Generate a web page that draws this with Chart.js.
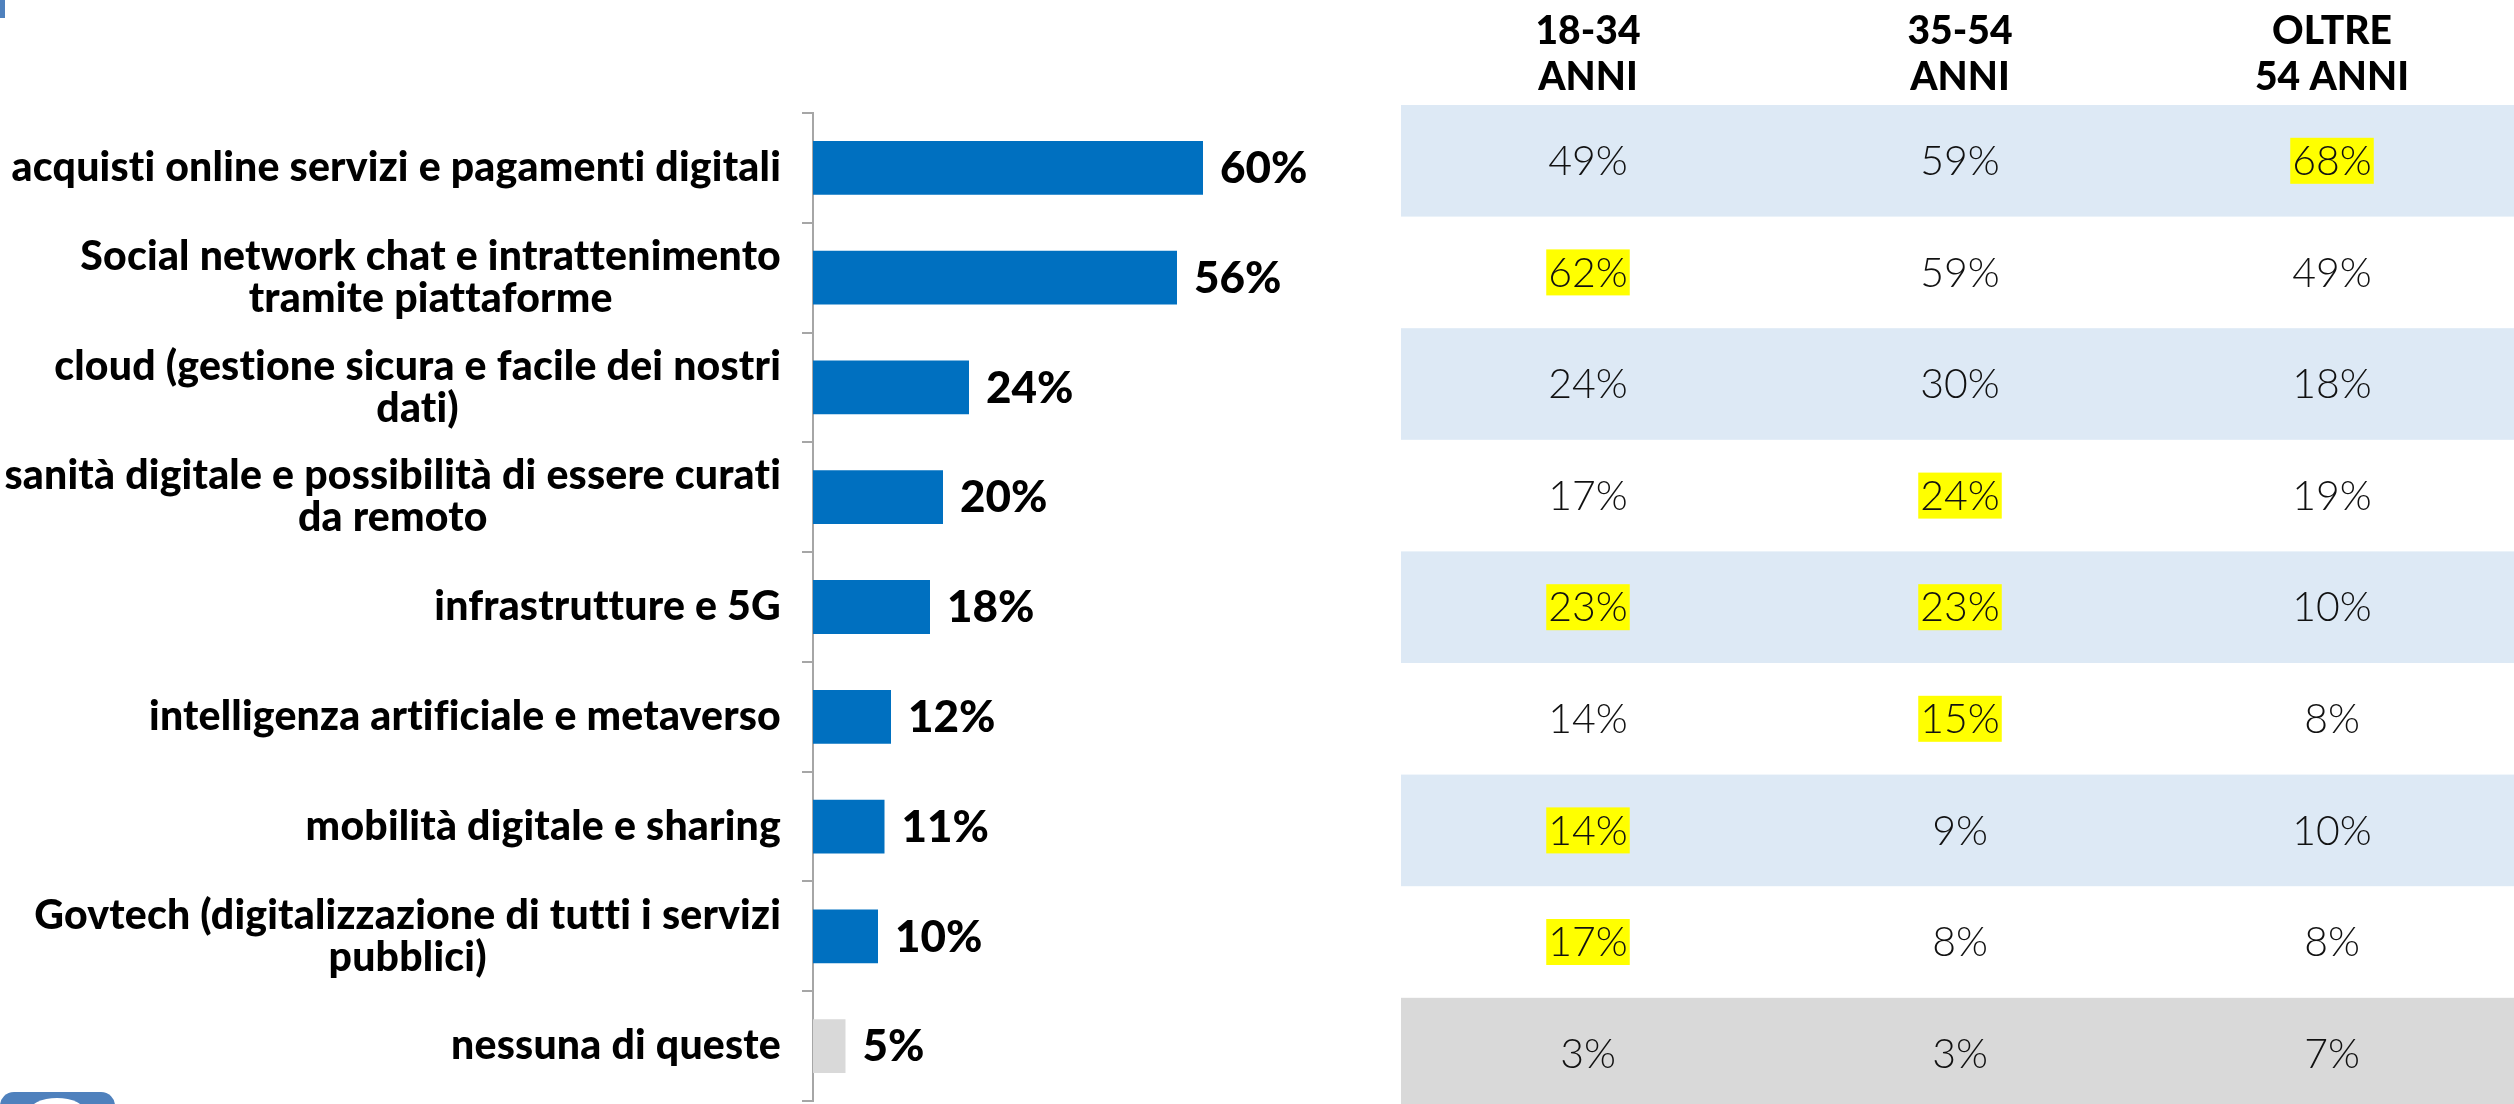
<!DOCTYPE html>
<html>
<head>
<meta charset="utf-8">
<script src="https://cdn.jsdelivr.net/npm/chart.js@4.4.1/dist/chart.umd.min.js"></script>
<style>
  html, body { margin: 0; padding: 0; background: #fff; }
  canvas { display: block; }
</style>
</head>
<body>
<canvas id="chart" width="2514" height="1104"></canvas>
<script>
const categories = [
    ['acquisti online servizi e pagamenti digitali'],
    ['Social network chat e intrattenimento', 'tramite piattaforme'],
    ['cloud (gestione sicura e facile dei nostri', 'dati)'],
    ['sanità digitale e possibilità di essere curati', 'da remoto'],
    ['infrastrutture e 5G'],
    ['intelligenza artificiale e metaverso'],
    ['mobilità digitale e sharing'],
    ['Govtech (digitalizzazione di tutti i servizi', 'pubblici)'],
    ['nessuna di queste'],
]
const totals = [60, 56, 24, 20, 18, 12, 11, 10, 5]

const ageGroups = [['18-34', 'ANNI'], ['35-54', 'ANNI'], ['OLTRE', '54 ANNI']]
const age18to34 = [49, 62, 24, 17, 23, 14, 14, 17, 3]
const age35to54 = [59, 59, 30, 24, 23, 15, 9, 8, 3]
const ageOver54 = [68, 49, 18, 19, 10, 8, 10, 8, 7]
// [row, column] of the cells marked in yellow
const highlighted = [[0, 2], [1, 0], [3, 1], [4, 0], [4, 1], [5, 1], [6, 0], [7, 0]]

const BLUE = '#0070C0'
const GREY = '#D9D9D9'
const AXIS = '#A6A6A6'
const FONT = '"Lato", "Open Sans", sans-serif'

// table layout
const tableLeft = 1401
const tableTop = 105
const rowHeight = 111.6
const columnX = [1588, 1960, 2332]

const tablePlugin = {
    id: 'table',
    afterDatasetsDraw(chart) {
        const ctx = chart.ctx
        const columns = [age18to34, age35to54, ageOver54]
        const rowTop = (r) => tableTop + r * rowHeight
        ctx.save()

        // row bands
        for (let r = 0; r < categories.length; r++) {
            if (r === categories.length - 1) ctx.fillStyle = GREY
            else if (r % 2 === 0) ctx.fillStyle = '#DDE9F5'
            else continue
            ctx.fillRect(tableLeft, rowTop(r), chart.width - tableLeft, rowHeight)
        }

        // header
        ctx.fillStyle = '#000'
        ctx.textAlign = 'center'
        ctx.textBaseline = 'middle'
        ctx.font = `900 39px ${FONT}`
        ageGroups.forEach((lines, c) => {
            lines.forEach((line, k) => ctx.fillText(line, columnX[c], 31 + k * 46))
        })

        // cells
        ctx.font = `300 41px ${FONT}`
        columns.forEach((values, c) => {
            values.forEach((v, r) => {
                const y = rowTop(r) + rowHeight / 2
                const text = v + '%'
                if (highlighted.some(h => h[0] === r && h[1] === c)) {
                    const w = ctx.measureText(text).width + 4
                    ctx.fillStyle = '#FFFF00'
                    ctx.fillRect(columnX[c] - w / 2, y - 23, w, 46)
                }
                ctx.fillStyle = '#111'
                ctx.fillText(text, columnX[c], y + 1)
            })
        })
        ctx.restore()
    }
}

const labelsPlugin = {
    id: 'labels',
    afterDatasetsDraw(chart) {
        const ctx = chart.ctx
        const y = chart.scales.y
        const meta = chart.getDatasetMeta(0)
        ctx.save()
        ctx.fillStyle = '#000'
        ctx.textBaseline = 'middle'

        // category names: block right aligned, lines centred inside it
        // (a touch of letter spacing keeps Lato from joining ligatures)
        ctx.font = `900 41px ${FONT}`
        ctx.letterSpacing = '0.2px'
        ctx.textAlign = 'center'
        categories.forEach((lines, i) => {
            const cy = y.getPixelForValue(i)
            const widest = Math.max(...lines.map(l => ctx.measureText(l).width))
            const cx = 781 - widest / 2
            lines.forEach((line, k) => {
                ctx.fillText(line, cx, cy + (k - (lines.length - 1) / 2) * 42)
            })
        })
        ctx.letterSpacing = '0px'

        // value labels at bar ends
        ctx.font = `900 44px ${FONT}`
        ctx.textAlign = 'left'
        meta.data.forEach((bar, i) => {
            ctx.fillText(totals[i] + '%', bar.x + 17, bar.y + 1)
        })

        // corner decorations
        ctx.fillStyle = '#4F81BD'
        ctx.fillRect(0, 0, 5, 18)
        ctx.beginPath()
        ctx.roundRect(0, 1092, 115, 30, 14)
        ctx.fill()
        ctx.fillStyle = '#fff'
        ctx.beginPath()
        ctx.ellipse(57, 1112, 28, 14, 0, 0, Math.PI * 2)
        ctx.fill()
        ctx.restore()
    }
}

new Chart(document.getElementById('chart'), {
    type: 'bar',
    data: {
        labels: categories,
        datasets: [{
            data: totals,
            backgroundColor: (c) => c.dataIndex === totals.length - 1 ? GREY : BLUE,
            categoryPercentage: 1,
            barPercentage: 0.49,
        }]
    },
    options: {
        indexAxis: 'y',
        responsive: false,
        animation: false,
        events: [],
        layout: { padding: { top: 113, bottom: 3, left: 0, right: 1116 } },
        plugins: {
            legend: { display: false },
            tooltip: { enabled: false },
        },
        scales: {
            x: { display: false, min: 0, max: 90 },
            y: {
                afterFit: (s) => { s.width = 813 },
                ticks: { display: false },
                grid: {
                    offset: true,
                    drawOnChartArea: false,
                    drawTicks: true,
                    tickLength: 11,
                    color: AXIS,
                    lineWidth: 2,
                },
                border: { display: true, color: AXIS, width: 2 },
            },
        },
    },
    plugins: [tablePlugin, labelsPlugin],
})
</script>
</body>
</html>
